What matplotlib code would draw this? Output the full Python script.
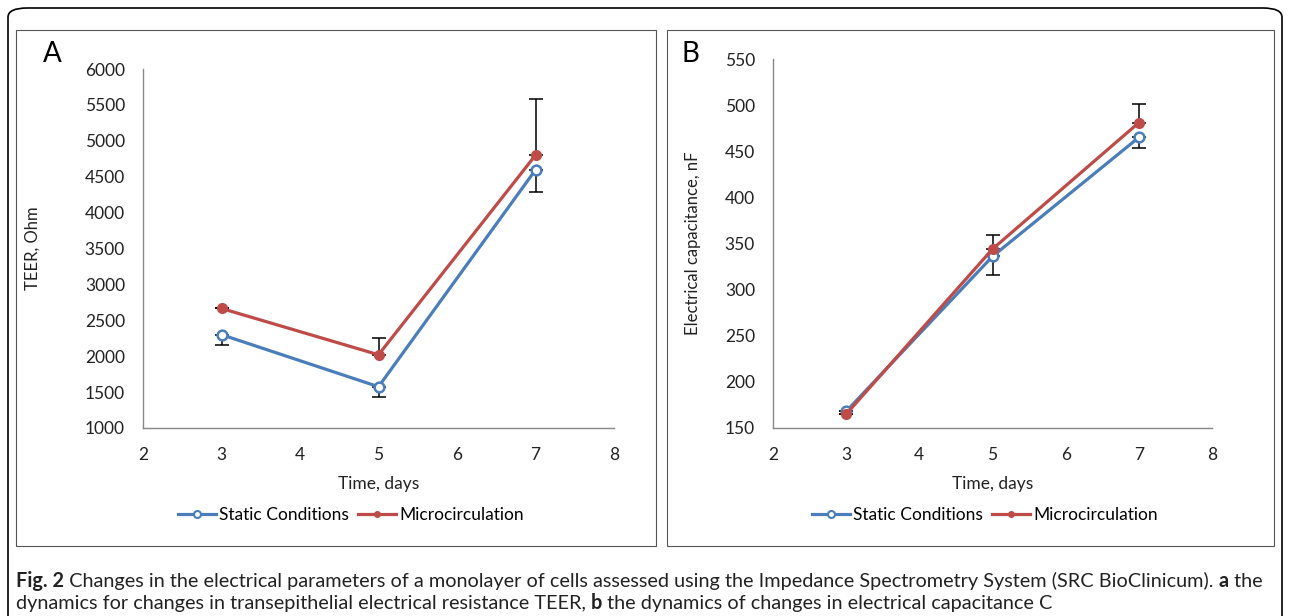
import matplotlib.pyplot as plt
from matplotlib.patches import FancyBboxPatch, Rectangle
from matplotlib.lines import Line2D

days = [3, 5, 7]

# panel A: TEER, Ohm
teer_static = [2300, 1575, 4595]
teer_static_err = [150, 140, 310]      # only lower bars shown
teer_micro = [2665, 2020, 4800]
teer_micro_err = [0, 240, 780]         # only upper bars shown

# panel B: electrical capacitance, nF
cap_static = [168, 336, 465]
cap_static_err = [0, 20, 11]
cap_micro = [165, 344, 481]
cap_micro_err = [0, 15, 20]

series_names = ['Static Conditions', 'Microcirculation']

blue = '#4A7EBB'
red = '#BE4B48'
font = 'Lato'
plt.rcParams['font.family'] = [font, 'DejaVu Sans']

W, H = 1290, 616
fig = plt.figure(figsize=(W / 100, H / 100), dpi=100)


def px_box(x0, y0, x1, y1):
    return [x0 / W, 1 - y1 / H, (x1 - x0) / W, (y1 - y0) / H]


# outer rounded frame (bottom edge runs past the image) and panel frames
fig.patches.append(FancyBboxPatch((8 / W, -30 / H), 1274 / W, 638 / H,
                                  boxstyle='round,pad=0,rounding_size=0.015',
                                  transform=fig.transFigure, fill=False,
                                  edgecolor='black', linewidth=1.2))
for x0, x1 in [(16, 656), (667, 1274)]:
    fig.patches.append(Rectangle((x0 / W, 1 - 546 / H), (x1 - x0) / W, 516 / H,
                                 transform=fig.transFigure, fill=False,
                                 edgecolor='#555555', linewidth=0.8))


def draw_panel(ax, st, st_err, mi, mi_err, ylim, ystep, ylabel, ylabelpad):
    ax.errorbar(days, st, yerr=[st_err, [0] * 3], fmt='none', ecolor='black',
                elinewidth=1.1, capsize=5, capthick=1.1, zorder=2)
    ax.errorbar(days, mi, yerr=[[0] * 3, mi_err], fmt='none', ecolor='black',
                elinewidth=1.1, capsize=5, capthick=1.1, zorder=2)
    ax.plot(days, st, color=blue, lw=2.3, marker='o', ms=7, mfc='white',
            mec=blue, mew=1.8, label=series_names[0], zorder=3)
    ax.plot(days, mi, color=red, lw=2.3, marker='o', ms=7, mfc=red,
            mec=red, label=series_names[1], zorder=4)
    ax.set_xlim(2, 8)
    ax.set_ylim(*ylim)
    ax.set_xticks(range(2, 9))
    ax.set_yticks(range(ylim[0], ylim[1] + 1, ystep))
    for s in ['top', 'right']:
        ax.spines[s].set_visible(False)
    for s in ['left', 'bottom']:
        ax.spines[s].set_color('#888888')
        ax.spines[s].set_linewidth(1.0)
    ax.tick_params(axis='y', length=0, labelsize=12.5, colors='#222222', pad=13)
    ax.tick_params(axis='x', length=0, labelsize=12.5, colors='#222222', pad=14)
    ax.set_ylabel(ylabel, fontsize=12, color='#222222', labelpad=ylabelpad)
    ax.set_xlabel('Time, days', fontsize=12.5, color='#222222', labelpad=9)


axA = fig.add_axes(px_box(143, 69, 614, 428))
draw_panel(axA, teer_static, teer_static_err, teer_micro, teer_micro_err,
           (1000, 6000), 500, 'TEER, Ohm', 32)
axB = fig.add_axes(px_box(773, 59, 1212, 428))
draw_panel(axB, cap_static, cap_static_err, cap_micro, cap_micro_err,
           (150, 550), 50, 'Electrical capacitance, nF', 17)

for ax, cx in [(axA, 351), (axB, 985)]:
    handles = [Line2D([], [], color=blue, lw=2.3, marker='o', ms=5, mfc='white', mec=blue, mew=1.5),
               Line2D([], [], color=red, lw=2.3, marker='o', ms=4, mfc=red, mec=red)]
    fig.legend(handles, series_names, loc='center', bbox_to_anchor=(cx / W, 1 - 515 / H),
               ncol=2, frameon=False, fontsize=12.5, handlelength=2.2,
               handletextpad=0.2, columnspacing=0.5)

fig.text(52 / W, 1 - 54 / H, 'A', fontsize=20, va='center', ha='center')
fig.text(690 / W, 1 - 54 / H, 'B', fontsize=20, va='center', ha='center')

# caption with bold pieces laid out one after another, sized to fit the frame
lines = [
    [('Fig. 2', 'bold'), (' Changes in the electrical parameters of a monolayer of cells assessed using the Impedance Spectrometry System (SRC BioClinicum). ', 'normal'),
     ('a', 'bold'), (' the', 'normal')],
    [('dynamics for changes in transepithelial electrical resistance TEER, ', 'normal'), ('b', 'bold'),
     (' the dynamics of changes in electrical capacitance C', 'normal')],
]
renderer = fig.canvas.get_renderer()
probe = [fig.text(0, 0, txt, fontsize=12, fontweight=wt) for txt, wt in lines[0]]
width0 = sum(t.get_window_extent(renderer).width for t in probe)
for t in probe:
    t.remove()
cap_size = 12 * 1243 / width0

for row, y in zip(lines, [587, 609]):
    x = 16
    for txt, wt in row:
        t = fig.text(x / W, 1 - y / H, txt, fontsize=cap_size, fontweight=wt,
                     va='baseline', color='#222222')
        x += t.get_window_extent(renderer).width

fig.savefig('out.png', dpi=100)
